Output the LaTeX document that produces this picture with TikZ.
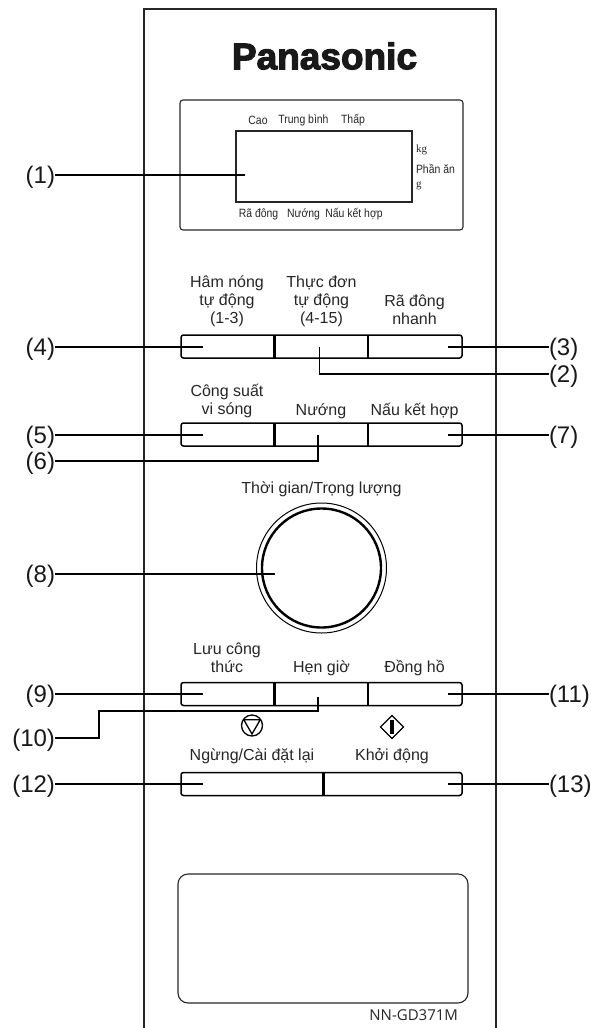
\documentclass[tikz,border=0pt]{standalone}
\usepackage{fontspec}
\setmainfont{Liberation Sans}
\newfontfamily\logofont{Liberation Sans Bold}[FakeBold=3]
\newfontfamily\modelfont{Open Sans}
\newfontfamily\unitfont{Liberation Serif}
\newfontfamily\dispfont{Liberation Sans}[FakeStretch=0.87]
\usetikzlibrary{positioning,shapes.geometric}

\begin{document}
\begin{tikzpicture}[
  x=1pt, y=-1pt,
  every node/.style={inner sep=0pt, outer sep=0pt, align=center},
  panel/.style={draw=black!85, line width=1.5pt},
  screen/.style={draw=black!85, line width=1.1pt, rounded corners=3pt},
  btnrow/.style={draw=black, line width=1.5pt, rounded corners=2.5pt, minimum height=23pt},
  divider/.style={draw=black, line width=2.2pt},
  leader/.style={draw=black, line width=1.6pt},
  keytext/.style={font=\fontsize{16}{18}\selectfont, text=black!85},
  disptext/.style={font=\dispfont\fontsize{12}{12}\selectfont, text=black!85},
  numlabel/.style={font=\fontsize{24}{26}\selectfont, text=black!90, text height=17pt, text depth=0pt},
]
\useasboundingbox (0,0) rectangle (591,1028);

% front panel
\draw[panel] (144,1028) -- (144,9) -- (496,9) -- (496,1028);
\node[font=\logofont\fontsize{37}{40}\selectfont, text=black!90] (logo) at (324.5,56) {Panasonic};

% display
\node[screen, minimum width=283pt, minimum height=130pt] (dispbox) at (321.5,165) {};
\node[draw=black!85, line width=1.1pt, minimum width=176pt, minimum height=71pt] (lcd) at (324,166.5) {};
\node[disptext] (cao) at (258,120) {Cao};
\node[disptext] (medium) at (303.5,120) {Trung bình};
\node[disptext] (low) at (353,120) {Thấp};
\node[disptext] (defrost) at (258.5,214) {Rã đông};
\node[disptext] (grill) at (303.5,214) {Nướng};
\node[disptext] (combi) at (354,214) {Nấu kết hợp};
\node[disptext, font=\unitfont\fontsize{11}{12}\selectfont, anchor=west] (kg) at (416,150) {kg};
\node[disptext, anchor=west] (portion) at (416,169) {Phần ăn};
\node[disptext, font=\unitfont\fontsize{11}{12}\selectfont, anchor=west] (gram) at (416,186) {g};

% key rows
\node[btnrow, minimum width=281pt] (rowa) at (321.5,346.5) {};
\node[btnrow, minimum width=281pt] (rowb) at (321.5,434.5) {};
\node[btnrow, minimum width=281pt] (rowc) at (321.5,694) {};
\node[btnrow, minimum width=281pt] (rowd) at (321.5,784) {};
\draw[divider] ([xshift=-47pt]rowa.north) -- ([xshift=-47pt]rowa.south);
\draw[divider] ([xshift=46.5pt]rowa.north) -- ([xshift=46.5pt]rowa.south);
\draw[divider] ([xshift=-47pt]rowb.north) -- ([xshift=-47pt]rowb.south);
\draw[divider] ([xshift=46.5pt]rowb.north) -- ([xshift=46.5pt]rowb.south);
\draw[divider] ([xshift=-47pt]rowc.north) -- ([xshift=-47pt]rowc.south);
\draw[divider] ([xshift=46.5pt]rowc.north) -- ([xshift=46.5pt]rowc.south);
\draw[divider] ([xshift=2pt]rowd.north) -- ([xshift=2pt]rowd.south);

\node[keytext] (autoheat) at (227,301) {Hâm nóng\\tự động\\(1-3)};
\node[keytext] (automenu) at (321.5,301) {Thực đơn\\tự động\\(4-15)};
\node[keytext] (quick) at (414.5,310) {Rã đông\\nhanh};
\node[keytext] (micro) at (227,401) {Công suất\\vi sóng};
\node[keytext] (grillkey) at (321,411) {Nướng};
\node[keytext] (combikey) at (414.5,411) {Nấu kết hợp};
\node[keytext] (save) at (227,658) {Lưu công\\thức};
\node[keytext] (timer) at (321.5,668) {Hẹn giờ};
\node[keytext] (clock) at (414.5,668) {Đồng hồ};
\node[keytext] (stoptext) at (252,756.5) {Ngừng/Cài đặt lại};
\node[keytext] (starttext) at (392,756.5) {Khởi động};

% dial
\node[keytext] (dialtext) at (321.5,489.5) {Thời gian/Trọng lượng};
\node[circle, draw=black, line width=1pt, minimum size=130pt] (dialout) at (321.5,568) {};
\node[circle, draw=black, line width=2.4pt, minimum size=119pt] (dial) at (321.5,568) {};

% stop and start signs
\node[circle, draw=black, line width=1.3pt, minimum size=21pt] (stopsign) at (252,725.5) {};
\node[regular polygon, regular polygon sides=3, shape border rotate=180, draw=black, line width=1.3pt, minimum size=19pt] (stoptri) at (252,724.5) {};
\node[diamond, draw=black, line width=1.3pt, minimum size=23pt] (startsign) at (392,727) {};
\node[fill=black, minimum width=3.5pt, minimum height=14pt] (startbar) at (392,727) {};

% sticker
\node[draw=black!85, line width=1.1pt, rounded corners=10pt, minimum width=290pt, minimum height=129pt] (sticker) at (323,938.5) {};
\node[font=\modelfont\fontsize{15}{16}\selectfont, text=black!85, anchor=east] (model) at (458,1015) {NN-GD371M};

% callouts
\node[numlabel, anchor=east] (n1) at (55,175) {(1)};
\node[numlabel, anchor=west] (n3) at (549,347) {(3)};
\node[numlabel, anchor=west] (n2) at (549,374) {(2)};
\node[numlabel, anchor=east] (n4) at (55,347) {(4)};
\node[numlabel, anchor=east] (n5) at (55,435) {(5)};
\node[numlabel, anchor=east] (n6) at (55,461) {(6)};
\node[numlabel, anchor=west] (n7) at (549,435) {(7)};
\node[numlabel, anchor=east] (n8) at (55,574) {(8)};
\node[numlabel, anchor=east] (n9) at (55,694) {(9)};
\node[numlabel, anchor=east] (n10) at (55,738) {(10)};
\node[numlabel, anchor=west] (n11) at (549,694) {(11)};
\node[numlabel, anchor=east] (n12) at (55,784) {(12)};
\node[numlabel, anchor=west] (n13) at (549,784) {(13)};

\coordinate (p1) at (245,175);
\coordinate (p2) at (319.5,347);
\coordinate (p3) at (447.5,347);
\coordinate (p4) at (203,347);
\coordinate (p5) at (203,435);
\coordinate (p6) at (318,435);
\coordinate (p7) at (447.5,435);
\coordinate (p8) at (275,574);
\coordinate (p9) at (203,694);
\coordinate (p10) at (318,697);
\coordinate (p11) at (447.5,694);
\coordinate (p12) at (203,784);
\coordinate (p13) at (447.5,784);

\draw[leader] (n1) -- (p1);
\draw[leader] (n2.west) -| (p2);
\draw[leader] (n3) -- (p3);
\draw[leader] (n4) -- (p4);
\draw[leader] (n5) -- (p5);
\draw[leader] (n6.east) -| (p6);
\draw[leader] (n7) -- (p7);
\draw[leader] (n8) -- (p8);
\draw[leader] (n9) -- (p9);
\draw[leader] (n10.east) -- (99,738) |- (318,711) -- (p10);
\draw[leader] (n11) -- (p11);
\draw[leader] (n12) -- (p12);
\draw[leader] (n13) -- (p13);

\end{tikzpicture}
\end{document}
